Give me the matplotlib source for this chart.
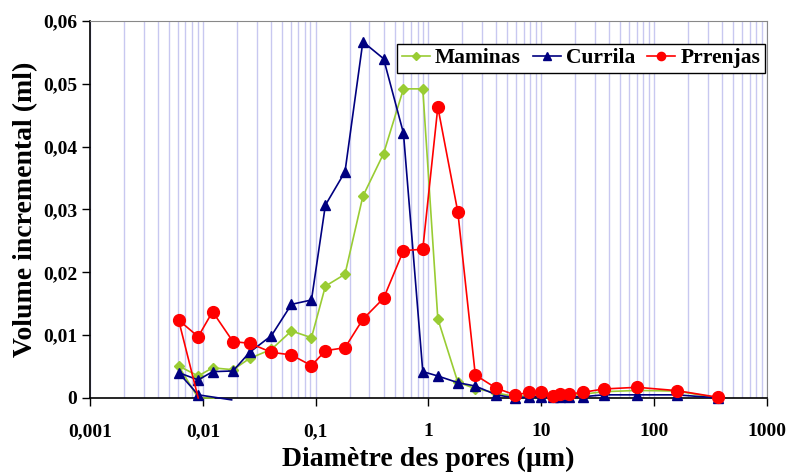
import numpy as np
import matplotlib
matplotlib.use("Agg")
from matplotlib import pyplot as plt
from matplotlib.ticker import FixedLocator, LogLocator, NullFormatter

plt.rcParams['font.family'] = ['Liberation Serif', 'DejaVu Serif']
plt.rcParams['font.weight'] = 'bold'

# diametres des pores (um), ordre d'intrusion (du plus grand au plus petit)
diam = [371, 159, 71, 35.6, 23.4, 17.7, 14.7, 12.6, 10, 7.8, 5.9, 4.0, 2.6,
        1.82, 1.21, 0.89, 0.6, 0.40, 0.262, 0.182, 0.122, 0.0918, 0.061,
        0.0406, 0.026, 0.0185, 0.0122, 0.0091, 0.0061]

maminas = [0.0, 0.0011, 0.0012, 0.0010, 0.0006, 0.0004, 0.0004, 0.0003, 0.0004,
           0.0004, 0.0002, 0.0008, 0.0015, 0.0025, 0.0126, 0.0492, 0.0492,
           0.0389, 0.0321, 0.0197, 0.0178, 0.0096, 0.01067, 0.00775, 0.0063,
           0.0045, 0.0048, 0.0035, 0.0051]
currila = [0.0, 0.0005, 0.0005, 0.0005, 0.0002, 0.0002, 0.0002, 0.0001, 0.0002,
           0.0002, 0.0, 0.0005, 0.0019, 0.00244, 0.0035, 0.0042, 0.04215,
           0.0540, 0.0567, 0.0360, 0.0307, 0.0156, 0.0149, 0.00993, 0.00727,
           0.0043, 0.00419, 0.00287, 0.00403]
prrenjas = [0.0001, 0.00117, 0.0017, 0.00143, 0.0009, 0.00064, 0.00064, 0.00037,
            0.0009, 0.0009, 0.00048, 0.00154, 0.00366, 0.0296, 0.0463, 0.02367,
            0.02346, 0.01587, 0.01253, 0.0080, 0.00753, 0.00515, 0.00685,
            0.00727, 0.00871, 0.00897, 0.01374, 0.00976, 0.0124]

# points de fin de courbe (retour vers zero)
maminas_tail_x = [0.0091, 0.0125]
maminas_tail_y = [0.0, 0.0]
currila_tail_x = [0.0091, 0.018]
currila_tail_y = [0.0005, -0.0003]
prrenjas_tail_x = [0.0091]
prrenjas_tail_y = [0.0]

xticks = [0.001, 0.01, 0.1, 1, 10, 100, 1000]
xlabels = ['0,001', '0,01', '0,1', '1', '10', '100', '1000']
yticks = [0, 0.01, 0.02, 0.03, 0.04, 0.05, 0.06]
ylabels = ['0', '0,01', '0,02', '0,03', '0,04', '0,05', '0,06']

fig = plt.figure(figsize=(7.86, 4.73), dpi=100)
ax = fig.add_axes([0.1145, 0.1586, 0.8613, 0.797])

n = len(diam)
series = [
    ('Maminas', maminas, maminas_tail_x, maminas_tail_y, '#99cc33', 'D', 5.5),
    ('Currila', currila, currila_tail_x, currila_tail_y, '#000080', '^', 7.5),
    ('Prrenjas', prrenjas, prrenjas_tail_x, prrenjas_tail_y, '#ff0000', 'o', 8.5),
]
for nom, vals, tx, ty, col, mk, ms in series:
    xs = diam + tx
    ys = vals + ty
    marks = list(range(n))
    if nom == 'Currila':
        marks.append(n)
    ax.plot(xs, ys, color=col, lw=1.2, marker=mk, markersize=ms,
            markevery=marks, label=nom, clip_on=False, zorder=3)

ax.set_xscale('log')
ax.set_xlim(0.001, 1000)
ax.set_ylim(0, 0.06)

ax.xaxis.set_major_locator(FixedLocator(xticks))
ax.set_xticklabels(xlabels)
ax.xaxis.set_minor_locator(LogLocator(base=10, subs=np.arange(2, 10)))
ax.xaxis.set_minor_formatter(NullFormatter())
ax.set_yticks(yticks)
ax.set_yticklabels(ylabels)

ax.grid(True, which='both', axis='x', color='#c8c8f0', lw=1.0, zorder=0)
ax.set_axisbelow(True)

ax.tick_params(axis='both', which='major', direction='out', length=6,
               width=1, labelsize=14)
ax.tick_params(axis='x', pad=12)
ax.tick_params(axis='y', pad=3)
ax.tick_params(axis='x', which='minor', length=0)

for s in ['top', 'right']:
    ax.spines[s].set_color('#888888')
for s in ['left', 'bottom']:
    ax.spines[s].set_color('black')
    ax.spines[s].set_linewidth(1.2)

ax.set_xlabel('Diamètre des pores (µm)', fontsize=20, fontweight='bold', labelpad=5)
ax.set_ylabel('Volume incremental (ml)', fontsize=20, fontweight='bold', labelpad=4)

leg = ax.legend(loc='upper right', bbox_to_anchor=(1.0, 0.945), ncol=3,
                fancybox=False, framealpha=1, edgecolor='black',
                prop={'weight': 'bold', 'size': 15.5}, handlelength=1.3,
                handletextpad=0.25, columnspacing=0.55, borderpad=0.2,
                borderaxespad=0.1, markerscale=0.7)
leg.get_frame().set_linewidth(1.0)

fig.savefig('out.png', dpi=100)
